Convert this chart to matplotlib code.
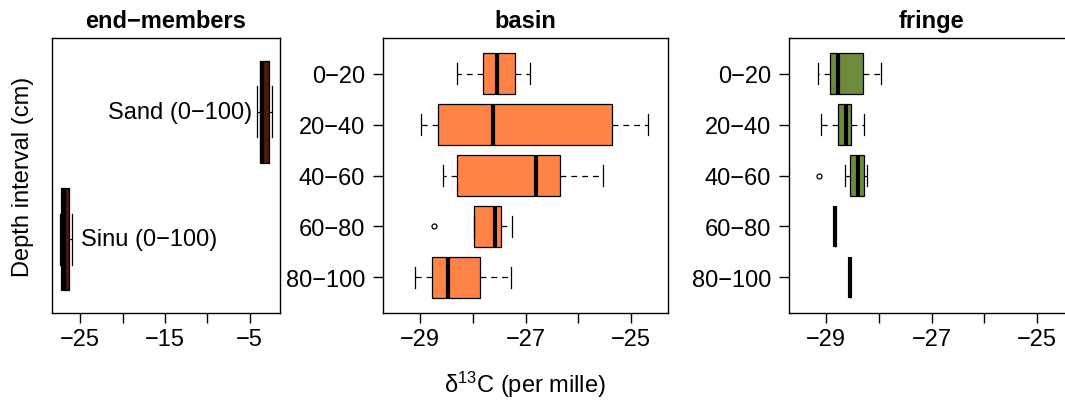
import matplotlib
matplotlib.use("Agg")
import matplotlib.pyplot as plt

# depth intervals, top to bottom
depth_labels = ["0−20", "20−40", "40−60", "60−80", "80−100"]

# basin boxplot stats (delta 13C, per mille)
basin_whislo = [-28.30, -28.98, -28.57, -27.97, -29.10]
basin_q1 = [-27.815, -28.66, -28.30, -27.97, -28.78]
basin_med = [-27.55, -27.62, -26.81, -27.58, -28.47]
basin_q3 = [-27.19, -25.36, -26.34, -27.47, -27.86]
basin_whishi = [-26.92, -24.67, -25.53, -27.25, -27.27]
basin_fliers = [[], [], [], [-28.74], []]

# fringe boxplot stats
fringe_whislo = [-29.16, -29.095, -28.65, -28.84, -28.55]
fringe_q1 = [-28.92, -28.77, -28.545, -28.84, -28.55]
fringe_med = [-28.77, -28.63, -28.40, -28.84, -28.55]
fringe_q3 = [-28.30, -28.53, -28.28, -28.84, -28.55]
fringe_whishi = [-27.96, -28.28, -28.22, -28.84, -28.55]
fringe_fliers = [[], [], [-29.13], [], []]

# end-members, bottom to top
em_labels = ["Sinu (0−100)", "Sand (0−100)"]
em_whislo = [-27.35, -4.18]
em_q1 = [-27.24, -3.79]
em_med = [-26.94, -3.53]
em_q3 = [-26.29, -2.76]
em_whishi = [-26.02, -2.41]

plt.rcParams["font.family"] = ["Liberation Sans", "DejaVu Sans"]
plt.rcParams["lines.scale_dashes"] = False
fs = 17
W, H = 1065, 402


def make_stats(lo, q1, med, q3, hi, fliers=None):
    out = []
    for i in range(len(med)):
        out.append(dict(whislo=lo[i], q1=q1[i], med=med[i], q3=q3[i], whishi=hi[i],
                        fliers=fliers[i] if fliers else []))
    return out


def draw_box(ax, stats, positions, color):
    kw = dict(
        positions=positions,
        widths=0.8,
        capwidths=0.4,
        patch_artist=True,
        boxprops=dict(facecolor=color, edgecolor="black", linewidth=0.9),
        medianprops=dict(color="black", linewidth=3.0, solid_capstyle="butt"),
        whiskerprops=dict(color="black", linewidth=0.9, linestyle=(0, (4.2, 3.6))),
        capprops=dict(color="black", linewidth=0.9),
        flierprops=dict(marker="o", markerfacecolor="none", markeredgecolor="black",
                        markersize=3.6, markeredgewidth=0.9),
    )
    try:
        ax.bxp(stats, orientation="horizontal", **kw)
    except TypeError:
        ax.bxp(stats, vert=False, **kw)


def style(ax):
    for s in ax.spines.values():
        s.set_linewidth(1.0)
    ax.tick_params(direction="out", length=7.2, width=1.0, labelsize=fs)
    ax.tick_params(axis="x", pad=3.5)
    ax.tick_params(axis="y", pad=6.0)


fig = plt.figure(figsize=(W / 100, H / 100), dpi=100)

bottom = (H - 314) / H
height = 275 / H

# end-members panel
ax1 = fig.add_axes([52 / W, bottom, 228 / W, height])
draw_box(ax1, make_stats(em_whislo, em_q1, em_med, em_q3, em_whishi), [1, 2], "#4a1a0c")
lo, hi = min(em_whislo), max(em_whishi)
ext = 0.04 * (hi - lo)
ax1.set_xlim(lo - ext, hi + ext)
ax1.set_ylim(0.42, 2.58)
ax1.set_yticks([])
ax1.set_xticks([-25, -20, -15, -10, -5])
ax1.set_xticklabels(["−25", "", "−15", "", "−5"])
ax1.annotate(em_labels[1], (em_whislo[1], 2), xytext=(-3, 0), textcoords="offset points",
             ha="right", va="center", fontsize=fs)
ax1.annotate(em_labels[0], (em_whishi[0], 1), xytext=(6.5, 0), textcoords="offset points",
             ha="left", va="center", fontsize=fs)
ax1.set_title("end−members", fontsize=fs, fontweight="bold", pad=8)
style(ax1)

positions = [5, 4, 3, 2, 1]
xt = [-29, -28, -27, -26, -25]
xtl = ["−29", "", "−27", "", "−25"]

ax2 = fig.add_axes([383.3 / W, bottom, 284.4 / W, height])
draw_box(ax2, make_stats(basin_whislo, basin_q1, basin_med, basin_q3, basin_whishi, basin_fliers),
         positions, "#FF8247")
ax2.set_title("basin", fontsize=fs, fontweight="bold", pad=8)

ax3 = fig.add_axes([789.3 / W, bottom, 284.4 / W, height])
draw_box(ax3, make_stats(fringe_whislo, fringe_q1, fringe_med, fringe_q3, fringe_whishi, fringe_fliers),
         positions, "#6E8B3D")
ax3.set_title("fringe", fontsize=fs, fontweight="bold", pad=8)

for ax in (ax2, ax3):
    ax.set_xlim(-29.7, -24.3)
    ax.set_ylim(0.3, 5.7)
    ax.set_yticks(positions)
    ax.set_yticklabels(depth_labels)
    ax.set_xticks(xt)
    ax.set_xticklabels(xtl)
    style(ax)

fig.text(23 / W, 0.5 * (2 * H - 39 - 314) / H, "Depth interval (cm)", rotation=90,
         ha="center", va="center", fontsize=fs)
fig.text(525 / W, (H - 393) / H, r"$\mathregular{\delta^{13}}$C (per mille)",
         ha="center", va="baseline", fontsize=fs)

fig.savefig("out.png", dpi=100)
